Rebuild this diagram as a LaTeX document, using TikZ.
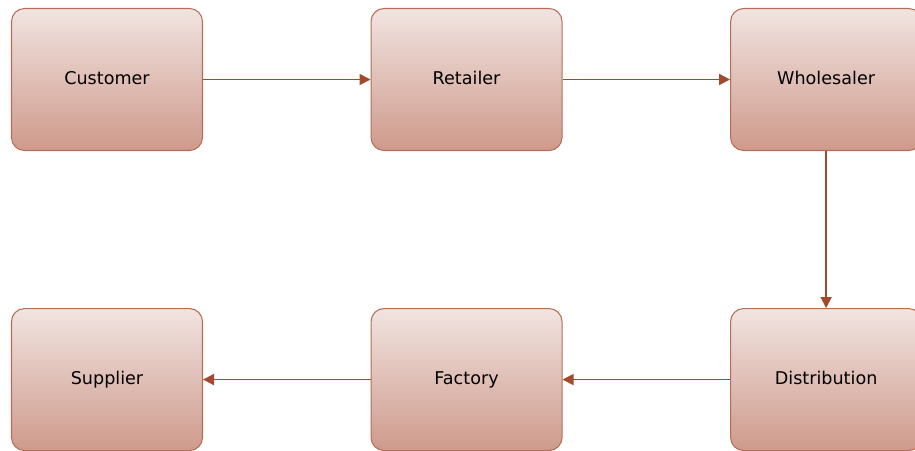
\documentclass[tikz,border=0pt]{standalone}
\usepackage{fontspec}
\setmainfont{DejaVu Sans}
\usepackage{tikz}
\usetikzlibrary{positioning,arrows.meta}

\definecolor{boxtop}{HTML}{F1E4E1}
\definecolor{boxbottom}{HTML}{CE9A8B}
\definecolor{boxline}{HTML}{B56E55}
\definecolor{flowline}{HTML}{A24A2C}

\begin{document}
\begin{tikzpicture}[
    stage/.style={rectangle, rounded corners=0.26cm, draw=boxline, line width=0.6pt,
        top color=boxtop, bottom color=boxbottom,
        minimum width=3.82cm, minimum height=2.84cm, font=\fontsize{10}{12}\selectfont,
        text height=1.6ex, text depth=0.5ex},
    flow/.style={draw=flowline, line width=1pt, -{Triangle[length=0.22cm,width=0.22cm]}},
    node distance=3.35cm and 3.35cm
]
\useasboundingbox (0,0) rectangle (18.3,-9);
\clip (0,0) rectangle (18.3,-9);

% top row
\node[stage] (customer) at (2.14,-1.59) {Customer};
\node[stage, right=of customer] (retailer) {Retailer};
\node[stage, right=of retailer] (wholesaler) {Wholesaler};

% bottom row
\node[stage, below=3.14cm of wholesaler] (distribution) {Distribution};
\node[stage, left=of distribution] (factory) {Factory};
\node[stage, left=of factory] (supplier) {Supplier};

\draw[flow] (customer) -- (retailer);
\draw[flow] (retailer) -- (wholesaler);
\draw[flow] (wholesaler) -- (distribution);
\draw[flow] (distribution) -- (factory);
\draw[flow] (factory) -- (supplier);

\end{tikzpicture}
\end{document}
